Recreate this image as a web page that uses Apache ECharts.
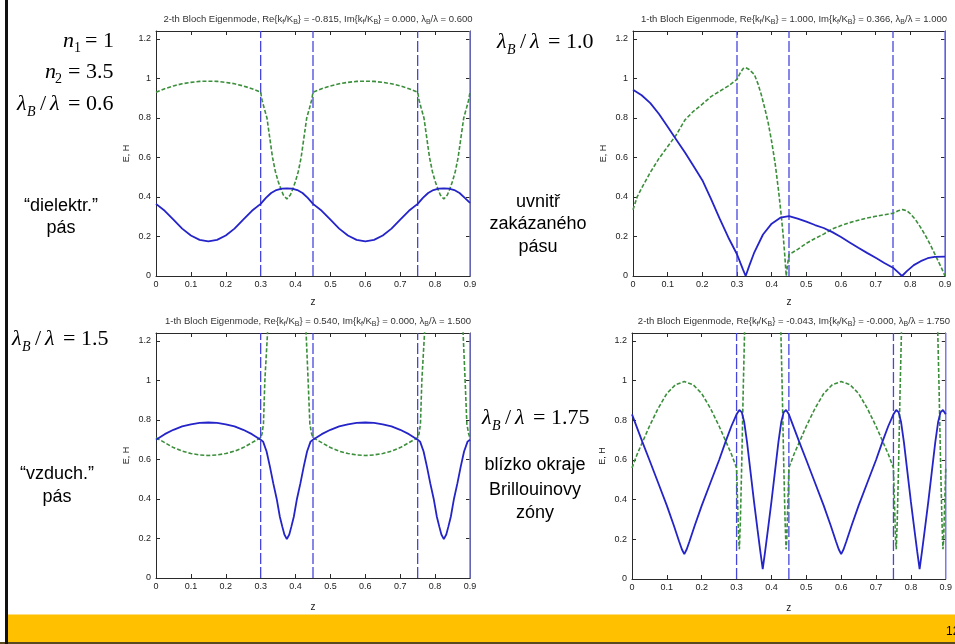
<!DOCTYPE html>
<html><head><meta charset="utf-8">
<script src="https://cdn.jsdelivr.net/npm/echarts@6/dist/echarts.min.js"></script>
<style>html,body{margin:0;padding:0;background:#fff}#c{width:955px;height:644px}</style>
</head><body><div id="c"></div>
<script>
// ---- tick labels ----
const xTicks = [0,0.1,0.2,0.3,0.4,0.5,0.6,0.7,0.8,0.9];
const yTicks = [0,0.2,0.4,0.6,0.8,1,1.2];
const Y_MAX = 1.24;
// layer boundaries (z)
const boundaries = [0.3,0.45,0.75];
const edgeLine = [0.9];

// ---- titles ----
const titles = [
  '2-th Bloch Eigenmode, Re{k{s|f}/K{s|B}} = -0.815, Im{k{s|f}/K{s|B}} = 0.000, λ{s|B}/λ = 0.600',
  '1-th Bloch Eigenmode, Re{k{s|f}/K{s|B}} = 1.000, Im{k{s|f}/K{s|B}} = 0.366, λ{s|B}/λ = 1.000',
  '1-th Bloch Eigenmode, Re{k{s|f}/K{s|B}} = 0.540, Im{k{s|f}/K{s|B}} = 0.000, λ{s|B}/λ = 1.500',
  '2-th Bloch Eigenmode, Re{k{s|f}/K{s|B}} = -0.043, Im{k{s|f}/K{s|B}} = -0.000, λ{s|B}/λ = 1.750'
];

// ---- panel 1 : lambdaB/lambda = 0.6 ----
const p1E = [[0,0.365],[0.025,0.33],[0.05,0.285],[0.075,0.24],[0.1,0.205],[0.125,0.183],[0.15,0.175],[0.175,0.183],[0.2,0.205],[0.225,0.24],[0.25,0.285],[0.275,0.33],[0.3,0.365],[0.315,0.395],[0.33,0.42],[0.345,0.435],[0.36,0.442],[0.375,0.443],[0.39,0.442],[0.405,0.435],[0.42,0.42],[0.435,0.395],[0.45,0.365],[0.475,0.33],[0.5,0.285],[0.525,0.24],[0.55,0.205],[0.575,0.183],[0.6,0.175],[0.625,0.183],[0.65,0.205],[0.675,0.24],[0.7,0.285],[0.725,0.33],[0.75,0.365],[0.765,0.395],[0.78,0.42],[0.795,0.435],[0.81,0.442],[0.825,0.443],[0.84,0.442],[0.855,0.435],[0.87,0.42],[0.885,0.395],[0.9,0.37]];
const p1H = [[0,0.93],[0.025,0.948],[0.05,0.962],[0.075,0.973],[0.1,0.98],[0.125,0.985],[0.15,0.986],[0.175,0.985],[0.2,0.98],[0.225,0.973],[0.25,0.962],[0.275,0.948],[0.3,0.93],[0.304,0.89],[0.31,0.85],[0.318,0.8],[0.326,0.7],[0.334,0.6],[0.342,0.53],[0.35,0.48],[0.357,0.445],[0.365,0.41],[0.375,0.39],[0.385,0.41],[0.393,0.445],[0.4,0.48],[0.408,0.53],[0.416,0.6],[0.424,0.7],[0.432,0.8],[0.44,0.85],[0.446,0.89],[0.45,0.93],[0.475,0.948],[0.5,0.962],[0.525,0.973],[0.55,0.98],[0.575,0.985],[0.6,0.986],[0.625,0.985],[0.65,0.98],[0.675,0.973],[0.7,0.962],[0.725,0.948],[0.75,0.93],[0.754,0.89],[0.76,0.85],[0.768,0.8],[0.776,0.7],[0.784,0.6],[0.792,0.53],[0.8,0.48],[0.807,0.445],[0.815,0.41],[0.825,0.39],[0.835,0.41],[0.843,0.445],[0.85,0.48],[0.858,0.53],[0.866,0.6],[0.874,0.7],[0.882,0.8],[0.89,0.85],[0.896,0.89],[0.9,0.93]];

// ---- panel 2 : lambdaB/lambda = 1.0 ----
const p2E = [[0,0.943],[0.025,0.915],[0.05,0.875],[0.075,0.82],[0.1,0.755],[0.125,0.69],[0.15,0.625],[0.175,0.555],[0.2,0.485],[0.225,0.39],[0.25,0.29],[0.275,0.195],[0.3,0.11],[0.31,0.065],[0.318,0.03],[0.325,0.0],[0.335,0.05],[0.35,0.12],[0.375,0.21],[0.4,0.265],[0.425,0.295],[0.45,0.303],[0.475,0.29],[0.5,0.275],[0.525,0.258],[0.55,0.243],[0.575,0.222],[0.6,0.197],[0.625,0.17],[0.65,0.143],[0.675,0.117],[0.7,0.092],[0.725,0.066],[0.75,0.042],[0.765,0.018],[0.776,0.0],[0.79,0.025],[0.81,0.055],[0.83,0.075],[0.85,0.09],[0.87,0.097],[0.9,0.098]];
const p2H = [[0,0.335],[0.012,0.4],[0.025,0.445],[0.05,0.525],[0.075,0.595],[0.1,0.655],[0.125,0.715],[0.15,0.79],[0.175,0.835],[0.2,0.87],[0.225,0.908],[0.25,0.935],[0.275,0.962],[0.3,0.995],[0.31,1.03],[0.318,1.05],[0.325,1.055],[0.335,1.045],[0.35,1.02],[0.36,0.975],[0.37,0.918],[0.38,0.85],[0.39,0.775],[0.4,0.68],[0.41,0.57],[0.42,0.43],[0.428,0.3],[0.433,0.21],[0.438,0.1],[0.442,0.0],[0.446,0.06],[0.45,0.108],[0.475,0.135],[0.5,0.165],[0.525,0.19],[0.55,0.212],[0.575,0.238],[0.6,0.255],[0.625,0.27],[0.65,0.282],[0.675,0.293],[0.7,0.302],[0.725,0.31],[0.75,0.318],[0.765,0.33],[0.778,0.336],[0.79,0.33],[0.8,0.315],[0.815,0.285],[0.83,0.245],[0.845,0.2],[0.86,0.15],[0.875,0.095],[0.89,0.04],[0.9,0.0]];

// ---- panel 3 : lambdaB/lambda = 1.5 ----
const p3E = [[0,0.7],[0.025,0.728],[0.05,0.75],[0.075,0.767],[0.1,0.778],[0.125,0.785],[0.15,0.787],[0.175,0.785],[0.2,0.778],[0.225,0.767],[0.25,0.75],[0.275,0.728],[0.3,0.7],[0.307,0.69],[0.317,0.64],[0.327,0.56],[0.336,0.48],[0.346,0.4],[0.355,0.31],[0.362,0.26],[0.368,0.22],[0.375,0.197],[0.382,0.22],[0.388,0.26],[0.395,0.31],[0.404,0.4],[0.414,0.48],[0.423,0.56],[0.433,0.64],[0.443,0.69],[0.45,0.7],[0.475,0.728],[0.5,0.75],[0.525,0.767],[0.55,0.778],[0.575,0.785],[0.6,0.787],[0.625,0.785],[0.65,0.778],[0.675,0.767],[0.7,0.75],[0.725,0.728],[0.75,0.7],[0.757,0.69],[0.767,0.64],[0.777,0.56],[0.786,0.48],[0.796,0.4],[0.805,0.31],[0.812,0.26],[0.818,0.22],[0.825,0.197],[0.832,0.22],[0.838,0.26],[0.845,0.31],[0.854,0.4],[0.864,0.48],[0.873,0.56],[0.883,0.64],[0.893,0.69],[0.9,0.7]];
const p3H = [[0,0.71],[0.025,0.685],[0.05,0.66],[0.075,0.642],[0.1,0.63],[0.125,0.623],[0.15,0.62],[0.175,0.623],[0.2,0.63],[0.225,0.642],[0.25,0.66],[0.275,0.685],[0.3,0.71],[0.304,0.73],[0.308,0.78],[0.312,1.0],[0.32,1.25],[0.33,1.6],[0.375,1.9],[0.42,1.6],[0.43,1.25],[0.436,1.0],[0.441,0.78],[0.446,0.73],[0.45,0.71],[0.475,0.685],[0.5,0.66],[0.525,0.642],[0.55,0.63],[0.575,0.623],[0.6,0.62],[0.625,0.623],[0.65,0.63],[0.675,0.642],[0.7,0.66],[0.725,0.685],[0.75,0.71],[0.754,0.73],[0.758,0.78],[0.762,1.0],[0.77,1.25],[0.78,1.6],[0.825,1.9],[0.87,1.6],[0.88,1.25],[0.886,1.0],[0.891,0.78],[0.896,0.73],[0.9,0.71]];

// ---- panel 4 : lambdaB/lambda = 1.75 ----
const p4E = [[0,0.83],[0.03,0.69],[0.05,0.6],[0.075,0.485],[0.1,0.37],[0.12,0.27],[0.135,0.19],[0.143,0.15],[0.15,0.125],[0.157,0.15],[0.165,0.19],[0.18,0.27],[0.2,0.37],[0.225,0.485],[0.25,0.6],[0.268,0.69],[0.285,0.77],[0.3,0.83],[0.308,0.852],[0.315,0.84],[0.322,0.79],[0.33,0.69],[0.34,0.54],[0.35,0.39],[0.36,0.25],[0.368,0.14],[0.375,0.05],[0.382,0.14],[0.39,0.25],[0.4,0.39],[0.41,0.54],[0.42,0.69],[0.428,0.79],[0.435,0.84],[0.442,0.852],[0.45,0.83],[0.48,0.69],[0.5,0.6],[0.525,0.485],[0.55,0.37],[0.57,0.27],[0.585,0.19],[0.593,0.15],[0.6,0.125],[0.607,0.15],[0.615,0.19],[0.63,0.27],[0.65,0.37],[0.675,0.485],[0.7,0.6],[0.718,0.69],[0.735,0.77],[0.75,0.83],[0.758,0.852],[0.765,0.84],[0.772,0.79],[0.78,0.69],[0.79,0.54],[0.8,0.39],[0.81,0.25],[0.818,0.14],[0.825,0.05],[0.832,0.14],[0.84,0.25],[0.85,0.39],[0.86,0.54],[0.87,0.69],[0.878,0.79],[0.885,0.84],[0.892,0.852],[0.9,0.83]];
const p4H = [[0,0.56],[0.015,0.63],[0.03,0.69],[0.05,0.77],[0.075,0.86],[0.1,0.935],[0.125,0.98],[0.15,0.995],[0.175,0.98],[0.2,0.935],[0.225,0.86],[0.25,0.77],[0.27,0.69],[0.285,0.63],[0.3,0.56],[0.303,0.38],[0.306,0.2],[0.308,0.15],[0.311,0.3],[0.315,0.6],[0.319,0.95],[0.323,1.25],[0.33,1.8],[0.375,2.2],[0.42,1.8],[0.427,1.25],[0.431,0.95],[0.435,0.6],[0.439,0.3],[0.442,0.15],[0.444,0.2],[0.447,0.38],[0.45,0.56],[0.465,0.63],[0.48,0.69],[0.5,0.77],[0.525,0.86],[0.55,0.935],[0.575,0.98],[0.6,0.995],[0.625,0.98],[0.65,0.935],[0.675,0.86],[0.7,0.77],[0.72,0.69],[0.735,0.63],[0.75,0.56],[0.753,0.38],[0.756,0.2],[0.758,0.15],[0.761,0.3],[0.765,0.6],[0.769,0.95],[0.773,1.25],[0.78,1.8],[0.825,2.2],[0.87,1.8],[0.877,1.25],[0.881,0.95],[0.885,0.6],[0.889,0.3],[0.892,0.15],[0.894,0.2],[0.897,0.38],[0.9,0.56]];

const panelsE = [p1E,p2E,p3E,p4E];
const panelsH = [p1H,p2H,p3H,p4H];

// ---- layout ----
const grids = [
  {left:156, top:31, width:314, height:245},
  {left:633, top:31, width:312, height:245},
  {left:156, top:333, width:314, height:245},
  {left:632, top:333, width:314, height:246}
];
const AX = '#2a2a2a';
const lblFont = {fontSize:9, color:'#222', fontFamily:'Liberation Sans, Arial, sans-serif'};
function fmt(list){ return v => { const t = list.find(t => Math.abs(t - v) < 1e-6); return t === undefined ? '' : String(t); }; }

const xAxis = [], yAxis = [], series = [], title = [];
grids.forEach((g,i) => {
  xAxis.push({gridIndex:i, type:'value', min:0, max:0.9, interval:0.1, position:'bottom',
    name:'z', nameLocation:'middle', nameGap: i<2 ? 21 : 24,
    nameTextStyle:{fontSize:10, color:'#222', fontFamily:'Liberation Sans, Arial, sans-serif'},
    axisLine:{show:true, onZero:false, lineStyle:{color:AX, width:1}},
    axisTick:{show:true, inside:true, length:4, lineStyle:{color:AX}},
    axisLabel:Object.assign({margin:4, formatter:fmt(xTicks)}, lblFont),
    splitLine:{show:false}});
  xAxis.push({gridIndex:i, type:'value', min:0, max:0.9, interval:0.1, position:'top',
    axisLine:{show:true, onZero:false, lineStyle:{color:AX, width:1}},
    axisTick:{show:true, inside:true, length:4, lineStyle:{color:AX}},
    axisLabel:{show:false}, splitLine:{show:false}});
  yAxis.push({gridIndex:i, type:'value', min:0, max:Y_MAX, interval:0.2, position:'left',
    name:'E, H', nameLocation:'middle', nameGap:25, nameRotate:90,
    nameTextStyle:{fontSize:9, color:'#222', fontFamily:'Liberation Sans, Arial, sans-serif'},
    axisLine:{show:true, onZero:false, lineStyle:{color:AX, width:1}},
    axisTick:{show:true, inside:true, length:4, lineStyle:{color:AX}},
    axisLabel:Object.assign({margin:5, formatter:fmt(yTicks)}, lblFont),
    splitLine:{show:false}});
  yAxis.push({gridIndex:i, type:'value', min:0, max:Y_MAX, interval:0.2, position:'right',
    axisLine:{show:true, onZero:false, lineStyle:{color:AX, width:1}},
    axisTick:{show:true, inside:true, length:4, lineStyle:{color:AX}},
    axisLabel:{show:false}, splitLine:{show:false}});
  // layer boundaries, drawn through the axes
  boundaries.forEach(b => series.push({type:'line', xAxisIndex:2*i, yAxisIndex:2*i, data:[[b,0],[b,Y_MAX]],
    showSymbol:false, symbol:'none', silent:true, z:2, lineStyle:{color:'#4646dc', width:1.3, type:[11,3]}}));
  edgeLine.forEach(b => series.push({type:'line', xAxisIndex:2*i, yAxisIndex:2*i, data:[[b,0],[b,Y_MAX]],
    showSymbol:false, symbol:'none', silent:true, z:2, lineStyle:{color:'#7a7ae6', width:1.5, type:'solid'}}));
  series.push({type:'line', xAxisIndex:2*i, yAxisIndex:2*i, data:panelsH[i], showSymbol:false, symbol:'none',
    clip:true, lineStyle:{color:'#3b8f3b', width:1.6, type:[4,2]}, z:3, silent:true});
  series.push({type:'line', xAxisIndex:2*i, yAxisIndex:2*i, data:panelsE[i], showSymbol:false, symbol:'none',
    clip:true, lineStyle:{color:'#2424c8', width:1.8}, z:4, silent:true});
  title.push({text:titles[i], left:g.left + g.width/2, textAlign:'center', top: i<2 ? 7 : 309,
    textStyle:{fontSize:9.5, fontWeight:'normal', color:'#333', fontFamily:'Liberation Sans, Arial, sans-serif', lineHeight:14,
      rich:{s:{fontSize:7, color:'#333', verticalAlign:'bottom', lineHeight:10, padding:[4,0,0,0]}}}});
});

// ---- slide annotations ----
const serif = 'Liberation Serif, DejaVu Serif, serif';
const sans = 'Liberation Sans, Arial, sans-serif';
function T(x, y, text, size, opts) {
  opts = opts || {};
  return {type:'text', x:x, y:y, silent:true, z:100, style:{text:text, fill:'#000',
    font:(opts.it ? 'italic ' : '') + size + 'px ' + (opts.sans ? sans : serif),
    textAlign:opts.align || 'left', align:opts.align || 'left', textVerticalAlign:'middle', verticalAlign:'middle'}};
}
function lam(x, y, val) {
  return [T(x, y, 'λ', 22, {it:true}), T(x+10, y+8, 'B', 14, {it:true}), T(x+23, y, '/', 22),
          T(x+33, y, 'λ', 22, {it:true}), T(x+51, y, '= ' + val, 22)];
}
const graphic = [
  {type:'rect', shape:{x:8, y:614.5, width:947, height:29}, style:{fill:'#FFC000'}, silent:true, z:1},
  {type:'rect', shape:{x:0, y:642, width:955, height:2}, style:{fill:'#5a4a20'}, silent:true, z:2},
  {type:'rect', shape:{x:5, y:0, width:3, height:644}, style:{fill:'#111'}, silent:true, z:2},
  T(946, 632, '12', 12, {sans:true}),
  T(63, 41, 'n', 22, {it:true}), T(74, 48, '1', 14), T(85, 41, '= 1', 22),
  T(45, 72, 'n', 22, {it:true}), T(55, 79, '2', 14), T(68, 72, '= 3.5', 22),
  ...lam(17, 104, '0.6'),
  ...lam(497, 42, '1.0'),
  ...lam(12, 339, '1.5'),
  ...lam(482, 418, '1.75'),
  T(61, 206, '“dielektr.”', 18, {sans:true, align:'center'}),
  T(61, 228, 'pás', 18, {sans:true, align:'center'}),
  T(538, 202, 'uvnitř', 18, {sans:true, align:'center'}),
  T(538, 224, 'zakázaného', 18, {sans:true, align:'center'}),
  T(538, 247, 'pásu', 18, {sans:true, align:'center'}),
  T(57, 474, '“vzduch.”', 18, {sans:true, align:'center'}),
  T(57, 497, 'pás', 18, {sans:true, align:'center'}),
  T(535, 465, 'blízko okraje', 18, {sans:true, align:'center'}),
  T(535, 490, 'Brillouinovy', 18, {sans:true, align:'center'}),
  T(535, 513, 'zóny', 18, {sans:true, align:'center'})
];

const chart = echarts.init(document.getElementById('c'), null, {renderer:'canvas'});
chart.setOption({animation:false, backgroundColor:'#fff', title, grid:grids, xAxis, yAxis, series, graphic});
</script></body></html>
